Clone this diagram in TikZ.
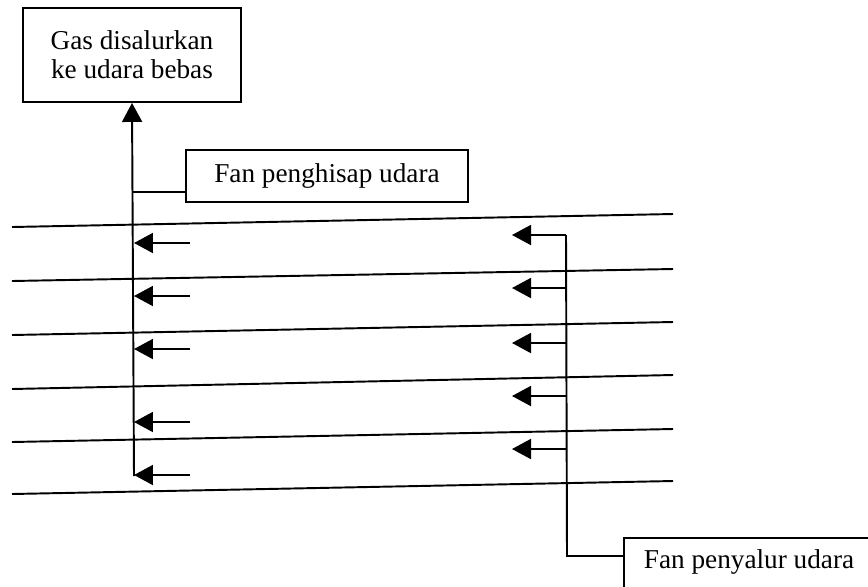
\documentclass[tikz,border=0pt]{standalone}
\usepackage{fontspec}
\setmainfont{Liberation Serif}
\usetikzlibrary{arrows.meta}
\tikzset{
  kotak/.style={draw, line width=1.1pt, align=center, font=\fontsize{15.5}{16.5}\selectfont},
  garis/.style={line width=1.1pt},
  panah/.style={garis, -{Triangle[length=0.38cm,width=0.4cm]}}
}
\begin{document}
\begin{tikzpicture}[x=0.02cm, y=-0.02cm]
	\useasboundingbox (0,0) rectangle (868,586);
	% kotak keterangan
	\node[kotak, minimum width=4.36cm, minimum height=1.88cm] (buang) at (132,55) {Gas disalurkan\\ke udara bebas};
	\node[kotak, minimum width=5.64cm, minimum height=1.04cm] (hisap) at (327,176) {Fan penghisap udara};
	\node[kotak, anchor=north west, inner xsep=0.4cm, inner ysep=0pt, text height=0.62cm, text depth=0.6cm] (salur) at (623,537) {Fan penyalur udara};
	% lapisan
	\foreach \yl/\yr in {227/214, 281/269, 335/322, 389/375, 442/429, 494/481}
		\draw[garis] (12,\yl) -- (673,\yr);
	% saluran hisap
	\coordinate (hisapbawah) at (134,476);
	\coordinate (hisapcabang) at (133,192);
	\draw[panah] (hisapbawah) -- (buang.south);
	\draw[garis] (hisapcabang) -- (hisapcabang -| hisap.west);
	\foreach \y in {243,296,349,422,475} {
		\coordinate (masuk) at (190,\y);
		\draw[panah] (masuk) -- (masuk -| hisapbawah);
	}
	% saluran penyalur
	\coordinate (saluratas) at (566,235);
	\coordinate (salurbawah) at (567,556);
	\draw[garis] (saluratas) -- (salurbawah) -- (salurbawah -| salur.west);
	\foreach \y in {235,288,343,396,449} {
		\coordinate (keluar) at (512,\y);
		\draw[panah] (keluar -| saluratas) -- (keluar);
	}
\end{tikzpicture}
\end{document}
